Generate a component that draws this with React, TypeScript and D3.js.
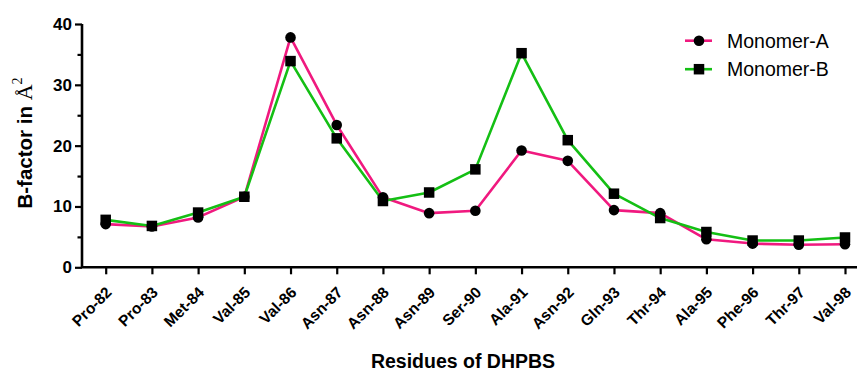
import React, { useEffect, useRef } from 'react';
import * as d3 from 'd3';

// residues along the x axis
const residues = [
  'Pro-82', 'Pro-83', 'Met-84', 'Val-85', 'Val-86', 'Asn-87', 'Asn-88', 'Asn-89', 'Ser-90',
  'Ala-91', 'Asn-92', 'Gln-93', 'Thr-94', 'Ala-95', 'Phe-96', 'Thr-97', 'Val-98',
];
// B-factor values (Å²)
const monomerA = [7.1, 6.7, 8.2, 11.6, 37.8, 23.4, 11.5, 8.9, 9.3, 19.2, 17.5, 9.4, 8.9, 4.6, 3.9, 3.7, 3.8];
const monomerB = [7.8, 6.8, 9.0, 11.6, 33.9, 21.2, 10.9, 12.3, 16.1, 35.2, 20.9, 12.1, 8.1, 5.8, 4.4, 4.4, 4.9];
const yTicks = [0, 5, 10, 15, 20, 25, 30, 35, 40];

const W = 859;
const H = 373;
const PINK = '#f0197f';
const GREEN = '#14bf14';
const FONT = 'Arial, "Liberation Sans", Helvetica, sans-serif';

const axisLeftX = 82;
const axisBottomY = 267.3;
const x = d3.scalePoint<string>().domain(residues).range([105.7, 845]);
const y = d3.scaleLinear().domain([0, 40]).range([axisBottomY, 24]);

const App = () => {
  const svgRef = useRef<SVGSVGElement>(null);

  useEffect(() => {
    const svg = d3.select(svgRef.current);
    svg.selectAll('*').remove();

    // --- Y axis ---
    const yAxis = svg.append('g')
      .attr('transform', `translate(${axisLeftX},0)`)
      .call(
        d3.axisLeft(y)
          .tickValues(yTicks)
          .tickSize(7)
          .tickPadding(3)
          .tickFormat((d) => (+d % 10 === 0 ? String(d) : ''))
      );
    yAxis.select('.domain').attr('stroke', '#000').attr('stroke-width', 2.6).attr('d', `M0,${y(40)}V${axisBottomY}`);
    yAxis.selectAll('.tick line')
      .attr('stroke', '#000')
      .attr('stroke-width', 2.2)
      .attr('x2', (d: any) => (d % 10 === 0 ? -7 : -4.5));
    yAxis.selectAll('.tick text')
      .attr('fill', '#000')
      .style('font-family', FONT)
      .style('font-weight', 'bold')
      .style('font-size', '17px');

    // --- X axis ---
    const xAxis = svg.append('g')
      .attr('transform', `translate(0,${axisBottomY})`)
      .call(d3.axisBottom(x).tickSize(7).tickSizeOuter(0).tickFormat(() => ''));
    xAxis.select('.domain').attr('stroke', '#000').attr('stroke-width', 2.6).attr('d', `M${axisLeftX},0H857`);
    xAxis.selectAll('.tick line').attr('stroke', '#000').attr('stroke-width', 2.2);

    // diagonal residue labels, laid out along 45° guide paths
    const defs = svg.append('defs');
    const ay = axisBottomY + 26;
    residues.forEach((r, i) => {
      const ax = (x(r) as number) + 7;
      defs.append('path')
        .attr('id', `xlbl-${i}`)
        .attr('d', `M${ax - 120},${ay + 120}L${ax},${ay}`);
    });
    svg.append('g').selectAll('text')
      .data(residues)
      .enter().append('text')
      .attr('fill', '#000')
      .style('font-family', FONT)
      .style('font-weight', 'bold')
      .style('font-size', '15.5px')
      .append('textPath')
      .attr('href', (_, i) => `#xlbl-${i}`)
      .attr('startOffset', '100%')
      .attr('text-anchor', 'end')
      .text((d) => d);

    // --- Lines ---
    const series = [
      { name: 'Monomer-A', values: monomerA, color: PINK, shape: 'circle' },
      { name: 'Monomer-B', values: monomerB, color: GREEN, shape: 'square' },
    ];

    const line = d3.line<number>()
      .x((_, i) => x(residues[i]) as number)
      .y((d) => y(d));

    series.forEach((s) => {
      svg.append('path')
        .datum(s.values)
        .attr('fill', 'none')
        .attr('stroke', s.color)
        .attr('stroke-width', 2.6)
        .attr('stroke-linejoin', 'round')
        .attr('d', line);
    });

    // --- Markers ---
    svg.append('g').selectAll('circle')
      .data(monomerA)
      .enter().append('circle')
      .attr('cx', (_, i) => x(residues[i]) as number)
      .attr('cy', (d) => y(d))
      .attr('r', 5.3)
      .attr('fill', '#000');

    const sq = 10.5;
    svg.append('g').selectAll('rect')
      .data(monomerB)
      .enter().append('rect')
      .attr('x', (_, i) => (x(residues[i]) as number) - sq / 2)
      .attr('y', (d) => y(d) - sq / 2)
      .attr('width', sq)
      .attr('height', sq)
      .attr('fill', '#000');

    // --- Axis titles ---
    const yTitle = svg.append('text')
      .attr('transform', 'translate(32,143) rotate(-90)')
      .attr('text-anchor', 'middle')
      .style('font-family', FONT)
      .style('font-weight', 'bold')
      .style('font-size', '20.5px')
      .attr('fill', '#000');
    yTitle.append('tspan').text('B-factor in ');
    yTitle.append('tspan')
      .style('font-family', '"Liberation Serif", "Times New Roman", serif')
      .style('font-weight', 'normal')
      .style('font-size', '22px')
      .text('Å');
    yTitle.append('tspan')
      .attr('dy', -10)
      .style('font-family', '"Liberation Serif", "Times New Roman", serif')
      .style('font-weight', 'normal')
      .style('font-size', '14px')
      .text('2');

    svg.append('text')
      .attr('x', 463)
      .attr('y', 368)
      .attr('text-anchor', 'middle')
      .style('font-family', FONT)
      .style('font-weight', 'bold')
      .style('font-size', '19.5px')
      .attr('fill', '#000')
      .text('Residues of DHPBS');

    // --- Legend ---
    const legend = svg.append('g');
    series.forEach((s, i) => {
      const ly = 40.7 + i * 28.5;
      const g = legend.append('g').attr('transform', `translate(0,${ly})`);
      g.append('line').attr('x1', 685).attr('x2', 712).attr('y1', 0).attr('y2', 0)
        .attr('stroke', s.color).attr('stroke-width', 2.6);
      if (s.shape === 'circle') {
        g.append('circle').attr('cx', 699).attr('cy', 0).attr('r', 5.3).attr('fill', '#000');
      } else {
        g.append('rect').attr('x', 699 - sq / 2).attr('y', -sq / 2).attr('width', sq).attr('height', sq).attr('fill', '#000');
      }
      g.append('text')
        .attr('x', 727)
        .attr('y', 7)
        .style('font-family', FONT)
        .style('font-size', '19.5px')
        .attr('fill', '#000')
        .text(s.name);
    });
  }, []);

  return (
    <div style={{ position: 'absolute', left: 0, top: 0 }}>
      <svg ref={svgRef} width={W} height={H} style={{ display: 'block', background: '#fff' }} />
    </div>
  );
};

export default App;
